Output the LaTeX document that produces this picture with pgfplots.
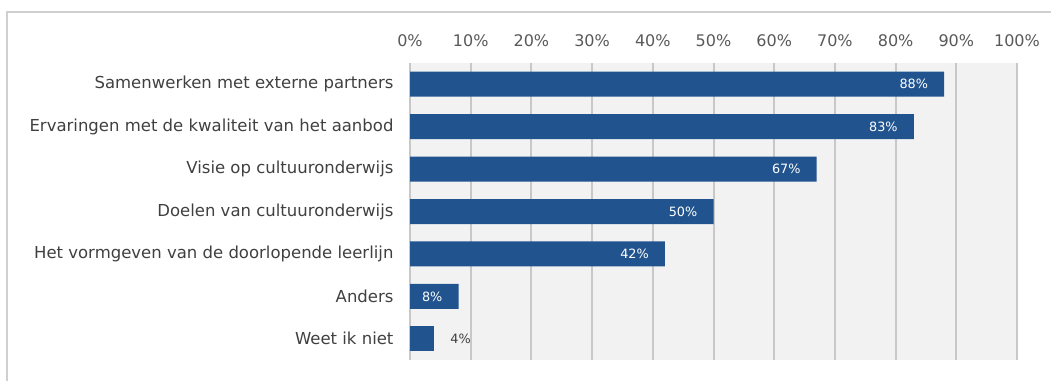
\documentclass[border=0pt]{standalone}
\usepackage{pgfplots}
\pgfplotsset{compat=1.18}
\usepackage{fontspec}
\setmainfont{DejaVu Sans}
\definecolor{barblue}{RGB}{33,84,143}
\definecolor{bggray}{RGB}{242,242,242}
\definecolor{gridgray}{RGB}{200,200,200}
\definecolor{txtgray}{RGB}{64,64,64}
\definecolor{ticktxt}{RGB}{89,89,89}
\definecolor{framegray}{RGB}{208,208,208}
\begin{document}
\begin{tikzpicture}
\useasboundingbox (0,0) rectangle (1051pt,381pt);
\fill[white] (0,0) rectangle (1051pt,381pt);
\draw[framegray, line width=2pt] (7pt,0) -- (7pt,369pt) -- (1051pt,369pt);
\begin{axis}[
  at={(410pt,21pt)}, anchor=south west,
  scale only axis,
  width=607pt, height=297pt,
  xmin=0, xmax=100,
  ymin=-0.5, ymax=6.5,
  y dir=reverse,
  axis background/.style={fill=bggray},
  axis line style={draw=none},
  xtick={0,10,...,100},
  xticklabel={\pgfmathprintnumber{\tick}\%},
  xticklabel pos=upper,
  xticklabel style={font=\fontsize{16}{18}\selectfont, text=ticktxt, yshift=13pt},
  ytick={0,...,6},
  yticklabels={Samenwerken met externe partners,
    Ervaringen met de kwaliteit van het aanbod,
    Visie op cultuuronderwijs,
    Doelen van cultuuronderwijs,
    Het vormgeven van de doorlopende leerlijn,
    Anders,
    Weet ik niet},
  yticklabel style={font=\fontsize{16.5}{18}\selectfont, text=txtgray, xshift=-13pt},
  major tick length=0pt,
  xmajorgrids,
  grid style={gridgray, line width=2pt},
  tick style={draw=none},
  /pgf/number format/assume math mode=true,
  xbar, bar width=25pt, bar shift=0pt,
  clip=false,
]
\addplot[fill=barblue, draw=none,
  nodes near coords={\pgfmathprintnumber{\pgfplotspointmeta}\%},
  nodes near coords style={anchor=east, inner sep=0pt, xshift=-16pt, text=white, font=\fontsize{12.8}{14}\selectfont},
  point meta=x]
  coordinates {(88,0) (83,1) (67,2) (50,3) (42,4) (8,5)};
\addplot[fill=barblue, draw=none,
  nodes near coords={\pgfmathprintnumber{\pgfplotspointmeta}\%},
  nodes near coords style={anchor=west, inner sep=0pt, xshift=16pt, text=txtgray, font=\fontsize{12.8}{14}\selectfont},
  point meta=x]
  coordinates {(4,6)};
\end{axis}
\end{tikzpicture}
\end{document}
